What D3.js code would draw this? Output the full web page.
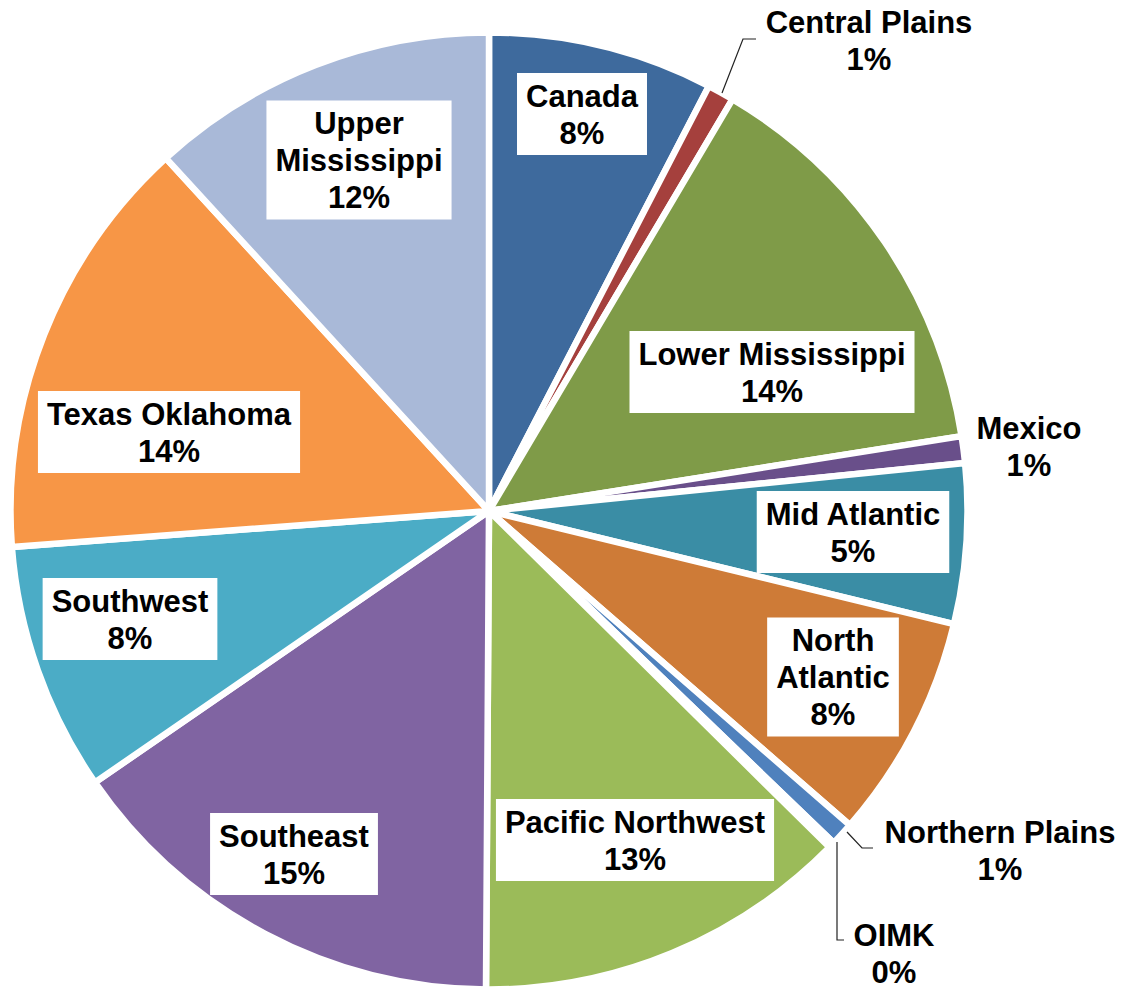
<!DOCTYPE html>
<html>
<head>
<meta charset="utf-8">
<script src="https://cdn.jsdelivr.net/npm/d3@7"></script>
<style>
  html, body { margin: 0; padding: 0; background: #fff; }
  svg text { font-family: "Liberation Sans", Arial, sans-serif; font-weight: bold; fill: #000; }
</style>
</head>
<body>
<svg id="chart" width="1126" height="989"></svg>
<script>
// ---- data ----
const categories = ["Canada", "Central Plains", "Lower Mississippi", "Mexico", "Mid Atlantic",
  "North Atlantic", "Northern Plains", "OIMK", "Pacific Northwest", "Southeast",
  "Southwest", "Texas Oklahoma", "Upper Mississippi"];
const values = [7.6, 0.9, 14.0, 0.9, 5.4, 7.6, 0.8, 0.2, 12.7, 15.3, 8.4, 14.4, 11.8];
const labelLines = [["Canada"], ["Central Plains"], ["Lower Mississippi"], ["Mexico"], ["Mid Atlantic"],
  ["North", "Atlantic"], ["Northern Plains"], ["OIMK"], ["Pacific Northwest"], ["Southeast"],
  ["Southwest"], ["Texas Oklahoma"], ["Upper", "Mississippi"]];

// ---- styles ----
const colors = ["#3E6A9D", "#A5403D", "#7F9B48", "#694F8A", "#3A8DA5", "#CE7B37",
  "#4F81BD", "#C0504D", "#9BBB59", "#8064A2", "#4BACC6", "#F79646", "#A9B9D8"];

// ---- layout (label block centres, boxed or outside, leader lines) ----
const labelLayout = [
  { x: 582, y: 114, boxed: true },
  { x: 869, y: 40, boxed: false, leader: [[722, 93], [743, 39], [756, 39]] },
  { x: 772, y: 372, boxed: true },
  { x: 1029, y: 446, boxed: false },
  { x: 853, y: 532, boxed: true },
  { x: 833, y: 677, boxed: true },
  { x: 1000, y: 850, boxed: false, leader: [[847, 832], [862, 848], [873, 848]] },
  { x: 894, y: 953, boxed: false, leader: [[837, 842], [837, 940], [844, 940]] },
  { x: 635, y: 840, boxed: true },
  { x: 294, y: 854, boxed: true },
  { x: 130, y: 619, boxed: true },
  { x: 169, y: 432, boxed: true },
  { x: 359, y: 160, boxed: true }
];

const cx = 489, cy = 511, radius = 478.5;
const fontSize = 31, lineH = 37;

const svg = d3.select("#chart");
const total = d3.sum(values);
const pie = d3.pie().sort(null).value(d => d);
const arcs = pie(values);
const arc = d3.arc().innerRadius(0).outerRadius(radius);

const g = svg.append("g").attr("transform", `translate(${cx},${cy})`);
g.selectAll("path.slice")
  .data(arcs)
  .join("path")
  .attr("class", "slice")
  .attr("d", arc)
  .attr("fill", (d, i) => colors[i])
  .attr("stroke", "#fff")
  .attr("stroke-width", 6.5)
  .attr("stroke-linejoin", "miter");

// leader lines
const line = d3.line();
svg.selectAll("path.leader")
  .data(labelLayout.filter(d => d.leader))
  .join("path")
  .attr("class", "leader")
  .attr("d", d => line(d.leader))
  .attr("fill", "none")
  .attr("stroke", "#222")
  .attr("stroke-width", 1.2);

// labels
const labels = svg.selectAll("g.label")
  .data(arcs)
  .join("g")
  .attr("class", "label");

labels.each(function (d, i) {
  const lay = labelLayout[i];
  const lines = labelLines[i].concat([Math.round(d.value / total * 100) + "%"]);
  const grp = d3.select(this);
  const box = grp.append("rect").attr("fill", "#fff");
  const n = lines.length;
  const texts = grp.selectAll("text")
    .data(lines)
    .join("text")
    .attr("x", lay.x)
    .attr("y", (t, k) => lay.y - (n - 1) * lineH / 2 + k * lineH + fontSize * 0.355)
    .attr("text-anchor", "middle")
    .attr("font-size", fontSize)
    .text(t => t);
  if (lay.boxed) {
    let w = 0;
    texts.each(function () { w = Math.max(w, this.getComputedTextLength()); });
    const bw = w + 18, bh = n * lineH + 8;
    box.attr("x", lay.x - bw / 2).attr("y", lay.y - bh / 2)
      .attr("width", bw).attr("height", bh);
  } else {
    box.remove();
  }
});
</script>
</body>
</html>
